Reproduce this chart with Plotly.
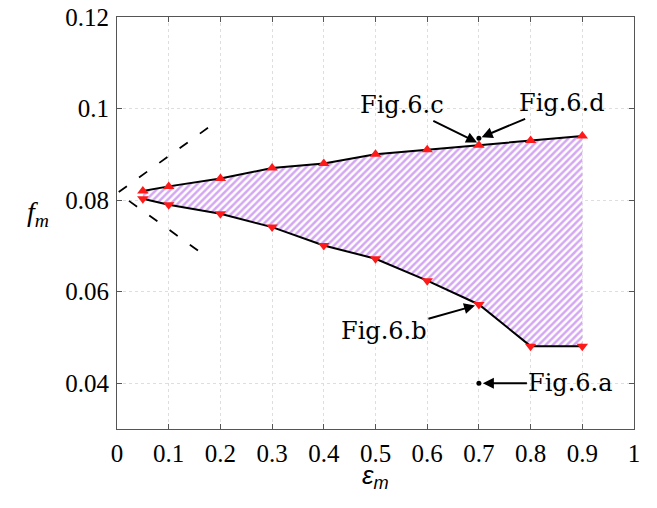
import plotly.graph_objects as go

# ---- data ----
eps_m = [0.05, 0.1, 0.2, 0.3, 0.4, 0.5, 0.6, 0.7, 0.8, 0.9]
f_upper = [0.082, 0.083, 0.0847, 0.087, 0.088, 0.090, 0.091, 0.092, 0.093, 0.094]
f_lower = [0.0803, 0.079, 0.077, 0.0741, 0.0701, 0.0672, 0.0624, 0.0572, 0.0481, 0.0481]

cone_x = [0.176, 0.0015, 0.176]
cone_y = [0.0958, 0.0816, 0.0674]

fig_a = (0.7, 0.040)
fig_d = (0.7, 0.0935)

x_ticks = [0, 0.1, 0.2, 0.3, 0.4, 0.5, 0.6, 0.7, 0.8, 0.9, 1]
x_tick_text = ["0", "0.1", "0.2", "0.3", "0.4", "0.5", "0.6", "0.7", "0.8", "0.9", "1"]
y_ticks = [0.04, 0.06, 0.08, 0.1, 0.12]
y_tick_text = ["0.04", "0.06", "0.08", "0.1", "0.12"]

HATCH = "#a950e6"
SERIF = "Liberation Serif"
ANN_FONT = dict(family="DejaVu Serif", size=24, color="black")

fig = go.Figure()

# hatched region between the two curves
fig.add_trace(go.Scatter(
    x=eps_m + eps_m[::-1],
    y=f_upper + f_lower[::-1],
    fill="toself",
    fillcolor="rgba(0,0,0,0)",
    fillpattern=dict(shape="/", fgcolor=HATCH, bgcolor="white", size=5, solidity=0.5),
    line=dict(width=0),
    mode="lines",
    hoverinfo="skip",
    showlegend=False,
))

# dashed cone on the left
fig.add_trace(go.Scatter(
    x=cone_x, y=cone_y, mode="lines",
    line=dict(color="black", width=1.8, dash="10px,15px"),
    showlegend=False,
))

# boundary curves
fig.add_trace(go.Scatter(
    x=eps_m, y=f_upper, mode="lines+markers",
    line=dict(color="black", width=2),
    marker=dict(symbol="triangle-up", size=10, color="#ff1a1a"),
    showlegend=False,
))
fig.add_trace(go.Scatter(
    x=eps_m, y=f_lower, mode="lines+markers",
    line=dict(color="black", width=2),
    marker=dict(symbol="triangle-down", size=10, color="#ff1a1a"),
    showlegend=False,
))

# black dots
fig.add_trace(go.Scatter(
    x=[fig_a[0], fig_d[0]], y=[fig_a[1], fig_d[1]], mode="markers",
    marker=dict(size=5, color="black"),
    showlegend=False,
))

ann_common = dict(showarrow=True, arrowhead=2, arrowsize=1.1, arrowwidth=2,
                  arrowcolor="black", font=ANN_FONT, xref="x", yref="y")
annotations = [
    dict(x=eps_m[7], y=f_upper[7] + 0.0004, ax=-77, ay=-38, text="Fig.6.c", standoff=2, **ann_common),
    dict(x=fig_d[0], y=fig_d[1], ax=83, ay=-35, text="Fig.6.d", standoff=3, **ann_common),
    dict(x=eps_m[7], y=f_lower[7], ax=-95, ay=27, text="Fig.6.b", standoff=4, **ann_common),
    dict(x=fig_a[0], y=fig_a[1], ax=92, ay=0, text="Fig.6.a", standoff=4, **ann_common),
    dict(x=-0.153, y=0.522, xref="paper", yref="paper", showarrow=False,
         xanchor="center", yanchor="middle",
         text="<i>f</i><sub><i>m</i></sub>",
         font=dict(family=SERIF, size=28, color="black")),
    dict(x=0.5, y=-0.116, xref="paper", yref="paper", showarrow=False,
         xanchor="center", yanchor="middle",
         text="<i>ε</i><sub><i>m</i></sub>",
         font=dict(family="Liberation Sans", size=26, color="black")),
]

axis_common = dict(
    showline=True, linecolor="#555555", linewidth=1, mirror="ticks",
    ticks="inside", ticklen=5, tickcolor="#555555",
    showgrid=True, gridcolor="#dedede", griddash="dot", gridwidth=1,
    zeroline=False, automargin=False, ticklabeloverflow="allow",
    tickfont=dict(family=SERIF, size=25, color="black"),
)

fig.update_layout(
    width=649, height=500,
    margin=dict(l=109, r=23, t=9, b=79),
    paper_bgcolor="white", plot_bgcolor="white",
    showlegend=False,
    annotations=annotations,
    xaxis=dict(range=[0, 1], tickvals=x_ticks, ticktext=x_tick_text,
               ticklabelstandoff=2, **axis_common),
    yaxis=dict(range=[0.03, 0.12], tickvals=y_ticks, ticktext=y_tick_text,
               ticklabelstandoff=2, **axis_common),
)

fig.write_html("out.html")
